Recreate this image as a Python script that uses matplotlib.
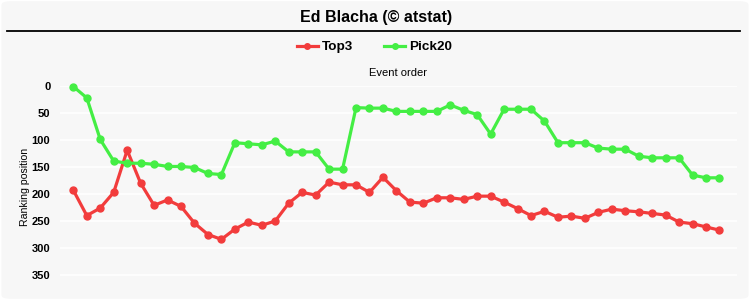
import numpy as np
import matplotlib
matplotlib.use("Agg")
import matplotlib.pyplot as plt
from matplotlib.patches import FancyBboxPatch
from matplotlib.lines import Line2D

plt.rcParams["font.family"] = ["Liberation Sans", "DejaVu Sans"]

# ranking position per event (lower = better)
top3 = [193, 240, 226, 197, 119, 180, 221, 211, 223, 254, 275, 284, 265, 252,
        258, 250, 217, 197, 202, 178, 183, 183, 197, 169, 194, 215, 217, 207,
        207, 210, 204, 204, 215, 227, 240, 232, 243, 241, 245, 234, 228, 231,
        233, 236, 239, 252, 255, 261, 267]
pick20 = [1, 22, 99, 139, 143, 143, 145, 149, 149, 151, 162, 164, 105, 107,
          109, 102, 122, 122, 122, 154, 154, 40, 41, 41, 47, 47, 47, 47,
          35, 45, 53, 89, 43, 43, 43, 65, 105, 105, 105, 115, 117, 117,
          130, 133, 133, 133, 165, 170, 170]
yticks = [0, 50, 100, 150, 200, 250, 300, 350]

red = "#f23c3c"
green = "#44ee44"
bg = "#f7f7f7"

fig = plt.figure(figsize=(7.5, 3.0), dpi=100, facecolor="white")

# rounded background panel
panel = FancyBboxPatch((0.002, 0.004), 0.996, 0.992,
                       boxstyle="round,pad=0,rounding_size=0.012",
                       transform=fig.transFigure, facecolor=bg,
                       edgecolor="none", zorder=-10)
fig.patches.append(panel)

fig.text(0.501, 0.942, "Ed Blacha (\u00a9 atstat)", ha="center", va="center",
         fontsize=11.5, fontweight="bold")
fig.add_artist(Line2D([7 / 750, 740 / 750], [1 - 31 / 300, 1 - 31 / 300],
                      color="black", lw=1.3, transform=fig.transFigure))

ax = fig.add_axes([60 / 750, 1 - 288.5 / 300, 677 / 750, 202.5 / 300])
ax.set_facecolor("none")

x = np.arange(len(top3))
l1, = ax.plot(x, top3, color=red, lw=2.3, marker="o", markersize=5,
              clip_on=False, zorder=3)
l2, = ax.plot(x, pick20, color=green, lw=2.3, marker="o", markersize=5,
              clip_on=False, zorder=3)

ax.set_xlim(-0.99, 49.3)
ax.set_ylim(375, 0)
ax.set_yticks(yticks)
ax.set_yticklabels([str(t) for t in yticks], fontsize=8, fontweight="bold")
ax.set_xticks([])
ax.tick_params(axis="y", length=0, pad=7)
ax.grid(axis="y", color="white", lw=1.2)
ax.set_axisbelow(True)
for s in ax.spines.values():
    s.set_visible(False)

ax.set_ylabel("Ranking position", fontsize=7.6, labelpad=1)
ax.set_title("Event order", fontsize=8, pad=7)

fig.legend([l1, l2], ["Top3", "Pick20"], loc="center",
           bbox_to_anchor=(0.4993, 1 - 47 / 300), ncol=2, frameon=False,
           prop={"size": 9.7, "weight": "bold"}, handlelength=1.55,
           handletextpad=0.3, columnspacing=2.3, markerscale=0.8)

fig.savefig("out.png", dpi=100, facecolor="white")
